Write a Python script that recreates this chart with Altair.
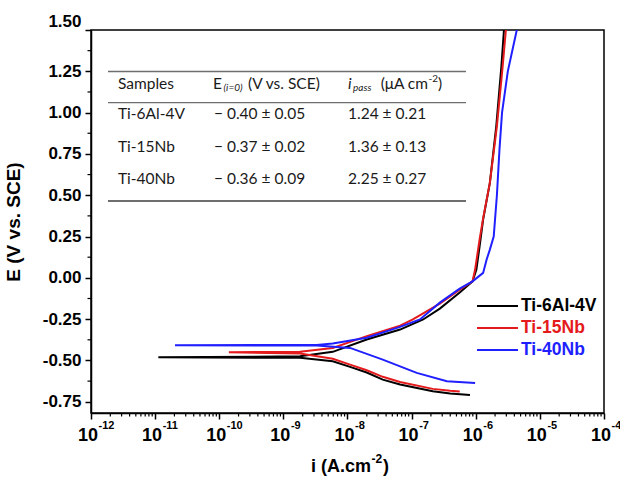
import altair as alt
import pandas as pd

# ---------------- data ----------------
sample_names = ["Ti-6Al-4V", "Ti-15Nb", "Ti-40Nb"]
sample_colors = ["#000000", "#e41a1c", "#1f1fff"]

# path of each polarisation curve: cathodic end -> E(i=0) spike -> anodic branch
ti64_logi = [-6.09, -6.40, -6.67, -7.18, -7.45, -7.70, -7.96, -8.23, -8.74, -10.95,
             -8.74, -8.23, -7.70, -7.18, -6.82, -6.56, -6.25, -6.05, -5.99, -5.94,
             -5.885, -5.78, -5.68, -5.60, -5.56]
ti64_E = [-0.709, -0.700, -0.686, -0.646, -0.616, -0.573, -0.539, -0.505, -0.484, -0.481,
          -0.475, -0.448, -0.373, -0.313, -0.252, -0.186, -0.089, -0.021, 0.05, 0.19,
          0.353, 0.575, 0.918, 1.281, 1.5]

ti15_logi = [-6.25, -6.40, -6.67, -7.18, -7.45, -7.70, -7.96, -8.23, -8.74, -9.85,
             -8.74, -8.23, -7.70, -7.18, -6.98, -6.56, -6.25, -6.05, -6.01, -5.94,
             -5.885, -5.78, -5.67, -5.58, -5.53]
ti15_E = [-0.688, -0.684, -0.672, -0.630, -0.599, -0.559, -0.525, -0.490, -0.458, -0.450,
          -0.448, -0.424, -0.353, -0.289, -0.252, -0.156, -0.071, -0.021, 0.05, 0.232,
          0.36, 0.575, 0.918, 1.281, 1.5]

ti40_logi = [-6.01, -6.45, -6.92, -7.45, -7.96, -8.48, -10.69, -8.48, -8.23, -7.70,
             -7.18, -6.87, -6.56, -6.25, -6.05, -5.885, -5.83, -5.78, -5.72, -5.67,
             -5.63, -5.59, -5.50, -5.36]
ti40_E = [-0.637, -0.626, -0.575, -0.495, -0.424, -0.410, -0.408, -0.406, -0.398, -0.363,
          -0.297, -0.252, -0.150, -0.065, -0.021, 0.030, 0.111, 0.171, 0.25, 0.50,
          0.777, 1.00, 1.25, 1.5]

# axis ticks
x_tick_exponents = [-12, -11, -10, -9, -8, -7, -6, -5, -4]
y_tick_values = [-0.75, -0.5, -0.25, 0.0, 0.25, 0.5, 0.75, 1.0, 1.25, 1.5]
y_minor_values = [-0.625, -0.375, -0.125, 0.125, 0.375, 0.625, 0.875, 1.125, 1.375]
x_minor_mult = [2, 3, 4, 5, 6, 7, 8, 9]

# inset table
table_header_samples = "Samples"
table_samples = ["Ti-6Al-4V", "Ti-15Nb", "Ti-40Nb"]
table_ecorr = ["\u2212 0.40 \u00b1 0.05", "\u2212 0.37 \u00b1 0.02", "\u2212 0.36 \u00b1 0.09"]
table_ipass = ["1.24 \u00b1 0.21", "1.36 \u00b1 0.13", "2.25 \u00b1 0.27"]

# ---------------- layout ----------------
W, H = 513, 383
FONT = "Liberation Sans"
TFONT = "Lato"

xs = alt.Scale(type="log", domain=[1e-12, 1e-4], nice=False)
ys = alt.Scale(domain=[-0.818, 1.5], nice=False, zero=False)

dummy = pd.DataFrame({"d": [0]})


def curve_df(logi, E):
    return pd.DataFrame({"i": [10.0 ** v for v in logi], "E": E, "k": list(range(len(E)))})


y_axis = alt.Axis(
    values=y_tick_values,
    labelExpr="datum.value < 0 ? '-' + format(-datum.value, '.2f') : format(datum.value, '.2f')",
    labelFont=FONT, labelFontSize=17, labelFontWeight="bold", labelColor="black",
    labelPadding=4,
    labelBaseline={"condition": {"test": "datum.value >= 1.5", "value": "bottom"},
                   "value": "middle"},
    tickSize=6, tickWidth=1.5, tickColor="black",
    domainColor="black", domainWidth=1.5, grid=False,
    title="E (V vs. SCE)", titleFont=FONT, titleFontSize=19, titleFontWeight="bold",
    titleColor="black", titleX=-68,
)
x_axis = alt.Axis(
    values=[10.0 ** e for e in x_tick_exponents], labels=False,
    tickSize=6, tickWidth=1.5, tickColor="black",
    domainColor="black", domainWidth=1.5, grid=False, title="",
)

X = lambda f: alt.X(f, scale=xs, axis=x_axis)
Y = lambda f: alt.Y(f, scale=ys, axis=y_axis)

layers = []
curves = [(ti64_logi, ti64_E), (ti15_logi, ti15_E), (ti40_logi, ti40_E)]
for (li, ee), col in zip(curves, sample_colors):
    layers.append(
        alt.Chart(curve_df(li, ee)).mark_line(color=col, strokeWidth=2, clip=True).encode(
            x=X("i:Q"), y=Y("E:Q"), order="k:Q",
        )
    )

# minor ticks
xminor_df = pd.DataFrame({"v": [m * 10.0 ** e for e in x_tick_exponents[:-1] for m in x_minor_mult]})
layers.append(
    alt.Chart(xminor_df).mark_rule(color="black", strokeWidth=1.2).encode(
        x=X("v:Q"), y=alt.value(H), y2=alt.value(H + 3.5)
    )
)
yminor_df = pd.DataFrame({"v": y_minor_values})
layers.append(
    alt.Chart(yminor_df).mark_rule(color="black", strokeWidth=1.2).encode(
        y=Y("v:Q"), x=alt.value(0), x2=alt.value(-3.5)
    )
)

# x tick labels 10^n
xlab_df = pd.DataFrame({"v": [10.0 ** e for e in x_tick_exponents],
                        "ex": [str(e) for e in x_tick_exponents]})
layers.append(
    alt.Chart(xlab_df).mark_text(align="right", baseline="middle", dx=7, font=FONT,
                                 fontSize=18, fontWeight="bold", color="black").encode(
        x=X("v:Q"), y=alt.value(H + 23), text=alt.value("10")
    )
)
layers.append(
    alt.Chart(xlab_df).mark_text(align="left", baseline="middle", dx=7.5, font=FONT,
                                 fontSize=11, fontWeight="bold", color="black").encode(
        x=X("v:Q"), y=alt.value(H + 13), text="ex:N"
    )
)


def label(text, x, y, **kw):
    return alt.Chart(dummy).mark_text(**kw).encode(
        x=alt.value(x), y=alt.value(y), text=alt.value(text)
    )


def hline(x1, x2, y, color, width):
    return alt.Chart(dummy).mark_rule(color=color, strokeWidth=width).encode(
        x=alt.value(x1), x2=alt.value(x2), y=alt.value(y)
    )


# x axis title with superscript
tb = dict(font=FONT, fontWeight="bold", color="black", baseline="middle")
layers.append(label("i (A.cm", 280, 437, align="right", fontSize=18, **tb))
layers.append(label("-2", 280.5, 429, align="left", fontSize=12, **tb))
layers.append(label(")", 292, 437, align="left", fontSize=18, **tb))

# inset table
tcol = "#1a1a1a"
lcol = "#6e6e6e"
tl, tr = 17, 375
layers.append(hline(tl, tr, 41.5, lcol, 1.5))
layers.append(hline(tl, tr, 72.7, lcol, 1.3))
layers.append(hline(tl, tr, 171, lcol, 2))
tt = dict(font=TFONT, color=tcol, baseline="middle", align="left")
hy = 53.5
layers.append(label(table_header_samples, 27, hy, fontSize=15.5, **tt))
layers.append(label("E", 122, hy, fontSize=15.5, **tt))
layers.append(label("(i=0)", 132.5, hy + 4, fontSize=10, fontStyle="italic", **tt))
layers.append(label("(V vs. SCE)", 157, hy, fontSize=15.5, **tt))
layers.append(label("i", 257, hy, fontSize=15.5, fontStyle="italic", **tt))
layers.append(label("pass", 262, hy + 4, fontSize=10, fontStyle="italic", **tt))
layers.append(alt.Chart(dummy).mark_text(font=TFONT, color=tcol, baseline="middle",
                                         align="right", fontSize=15.5).encode(
    x=alt.value(337), y=alt.value(hy), text=alt.value("(\u03bcA cm")))
layers.append(label("-2", 337.5, hy - 5, fontSize=10, **tt))
layers.append(label(")", 347, hy, fontSize=15.5, **tt))
row_y = [84, 117, 149]
for ry, s, e, ip in zip(row_y, table_samples, table_ecorr, table_ipass):
    layers.append(label(s, 27, ry, fontSize=15.5, **tt))
    layers.append(label(e, 123, ry, fontSize=15.5, **tt))
    layers.append(label(ip, 257, ry, fontSize=15.5, **tt))

# legend
leg_y = [276, 298, 320]
for ly, name, col in zip(leg_y, sample_names, sample_colors):
    layers.append(hline(386, 427, ly, col, 2))
    layers.append(label(name, 430, ly, align="left", baseline="middle", font=FONT,
                        fontSize=17.5, fontWeight="bold", color=col))

chart = alt.layer(*layers).properties(
    width=W, height=H,
    autosize=alt.AutoSizeParams(type="none"),
    padding={"left": 91, "top": 30, "right": 16, "bottom": 68},
).configure_view(stroke="black", strokeWidth=1.5)

chart.save("out.html", embed_options={"renderer": "svg", "actions": False})
